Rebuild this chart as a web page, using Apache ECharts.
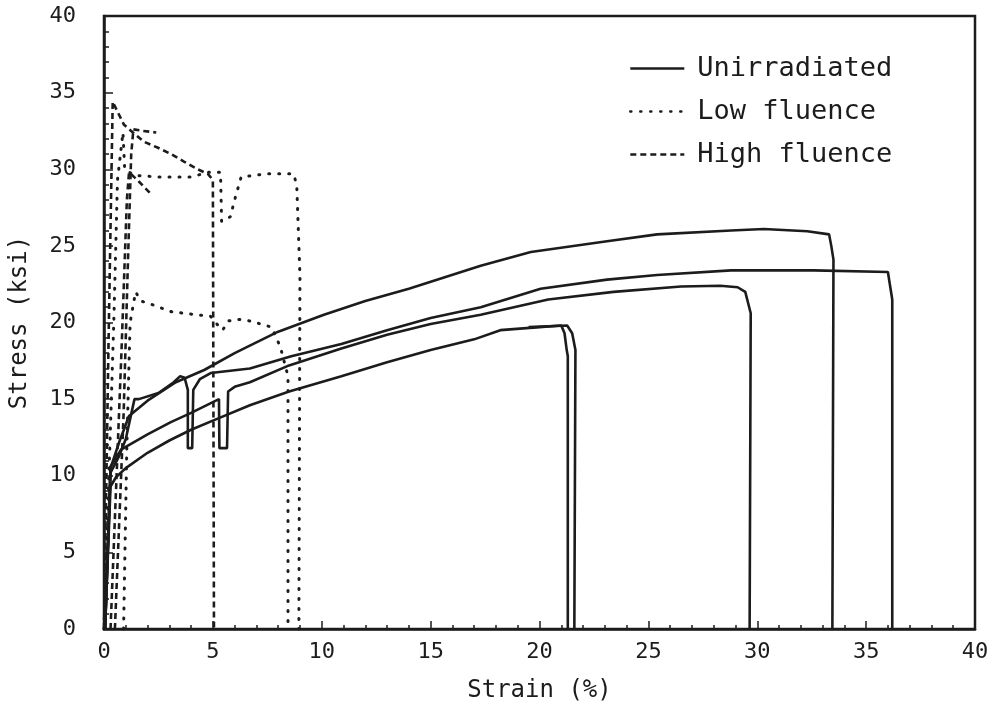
<!DOCTYPE html>
<html>
<head>
<meta charset="utf-8">
<script src="https://cdn.jsdelivr.net/npm/echarts@6/dist/echarts.min.js"></script>
<style>
html,body{margin:0;padding:0;background:#fff;}
#chart{width:998px;height:714px;}
</style>
</head>
<body>
<div id="chart"></div>
<script>
// ---- tick labels ----
const xTicks = [0, 5, 10, 15, 20, 25, 30, 35, 40];
const yTicks = [0, 5, 10, 15, 20, 25, 30, 35, 40];
const legendNames = ['Unirradiated', 'Low fluence', 'High fluence'];

// ---- Unirradiated (solid) curves: [strain %, stress ksi] ----
const uniLow = [[0.05,0],[0.3,9.3],[0.55,9.9],[1,10.5],[2,11.5],[3,12.3],[4,13.0],[5,13.6],[6.7,14.6],[8.5,15.5],[10.9,16.5],[13,17.4],[15,18.2],[17,18.9],[18.2,19.5],[20,19.7],[21.0,19.8],[21.15,19.3],[21.25,18.2],[21.3,17.8],[21.3,0]];
const uniLowTwin = [[19.5,19.7],[21.27,19.8],[21.5,19.3],[21.65,18.2],[21.6,0]];
const uniMidA = [[0.05,0],[0.3,10.6],[0.78,11.7],[2,12.7],[3.07,13.5],[4,14.1],[5.28,15.0],[5.3,11.8],[5.65,11.8],[5.7,15.5],[6,15.8],[6.7,16.1],[8.5,17.2],[10.9,18.3],[13,19.2],[15,19.9],[17.3,20.5],[20.4,21.5],[23.4,22.0],[26.5,22.35],[28.3,22.4],[29.1,22.3],[29.45,22.0],[29.7,20.6],[29.65,0]];
const uniMidB = [[0.05,0],[0.3,10.2],[0.7,11.3],[1.0,12.4],[1.4,15.0],[1.6,15.0],[2.5,15.4],[3.2,16.1],[3.5,16.5],[3.7,16.4],[3.85,15.6],[3.85,11.8],[4.05,11.8],[4.1,15.6],[4.4,16.3],[4.9,16.7],[6.7,17.0],[8.6,17.8],[10.9,18.6],[13,19.5],[15,20.3],[17.3,21.0],[20.05,22.2],[23.1,22.8],[25.4,23.1],[28.8,23.4],[32.6,23.4],[36.0,23.3],[36.2,21.5],[36.2,0]];
const uniTop = [[0.05,0],[0.3,10.5],[0.7,12.2],[1.15,13.9],[2,14.9],[3.3,16.1],[4.6,16.9],[6,18.0],[8,19.4],[10.1,20.5],[12,21.4],[14,22.2],[17.3,23.7],[19.6,24.6],[23.1,25.3],[25.4,25.75],[28.8,26.0],[30.3,26.1],[32.3,25.95],[33.3,25.75],[33.4,25.0],[33.5,24.1],[33.45,0]];

// ---- Low fluence (dotted) curves ----
const lowA = [[0,0],[0.45,20],[0.62,29.3],[0.87,32.4],[0.95,30.0],[1.4,29.6],[2.5,29.5],[4.0,29.5],[4.8,29.8],[5.35,29.8],[5.4,26.6],[5.8,26.9],[6.0,28.0],[6.3,29.5],[7.5,29.7],[8.7,29.7],[8.85,29.0],[9.0,23.0],[8.95,0]];
const lowB = [[0.9,0],[1.05,12],[1.2,20],[1.45,22.0],[1.7,21.4],[2.15,21.2],[3.1,20.7],[4.9,20.4],[5.3,19.7],[5.45,19.5],[5.7,20.1],[6.2,20.2],[6.7,20.1],[7.2,19.9],[7.7,19.7],[8.1,18.4],[8.45,16.5],[8.45,0]];

// ---- High fluence (dashed) curves ----
const highA = [[0,0],[0.2,18],[0.4,34.4],[0.64,33.7],[0.92,32.9],[1.33,32.4],[1.83,31.8],[2.48,31.4],[3.07,31.0],[3.67,30.5],[4.3,30.0],[4.77,29.7],[5.0,29.3],[5.05,0]];
const highB = [[0.5,0],[0.9,14],[1.1,24],[1.25,31],[1.35,32.6],[1.8,32.5],[2.4,32.4]];
const highC = [[0.3,0],[0.8,18],[1.05,28],[1.15,29.8],[1.6,29.2],[2.15,28.4]];

const ink = '#1c1c1c';
const font = 'DejaVu Sans Mono';

function solid(d){ return {name: legendNames[0], type:'line', data:d, showSymbol:false, symbol:'none', animation:false,
  lineStyle:{color:ink, width:2.6, type:'solid'}, itemStyle:{color:ink}}; }
function dotted(d){ return {name: legendNames[1], type:'line', data:d, showSymbol:false, symbol:'none', animation:false,
  lineStyle:{color:ink, width:3, type:[1,9], cap:'round'}, itemStyle:{color:ink}}; }
function dashed(d){ return {name: legendNames[2], type:'line', data:d, showSymbol:false, symbol:'none', animation:false,
  lineStyle:{color:ink, width:2.6, type:[6,4]}, itemStyle:{color:ink}}; }

const chart = echarts.init(document.getElementById('chart'), null, {renderer:'canvas'});
chart.setOption({
  backgroundColor:'#fff',
  animation:false,
  grid:{left:103, right:23, top:16, bottom:85, show:true, borderColor:ink, borderWidth:2.5, backgroundColor:'transparent'},
  legend:{
    data: legendNames, orient:'vertical', left:624, top:50, selectedMode:false,
    itemWidth:54, itemHeight:14, itemGap:16,
    itemStyle:{opacity:0},
    lineStyle:{width:2.6},
    textStyle:{fontFamily:font, fontSize:27, color:ink, padding:[0,0,0,8]}
  },
  xAxis:{
    type:'value', min:xTicks[0], max:xTicks[xTicks.length-1], interval:5,
    name:'Strain (%)', nameLocation:'middle', nameGap:50,
    nameTextStyle:{fontFamily:font, fontSize:24, color:ink},
    axisLine:{show:true, onZero:false, lineStyle:{color:ink, width:2.5}},
    axisTick:{show:true, inside:true, length:8, lineStyle:{color:ink, width:1.5}},
    minorTick:{show:true, splitNumber:5, length:4, lineStyle:{color:ink, width:1.5}},
    axisLabel:{fontFamily:font, fontSize:22, color:ink, margin:12},
    splitLine:{show:false}
  },
  yAxis:{
    type:'value', min:yTicks[0], max:yTicks[yTicks.length-1], interval:5,
    name:'Stress (ksi)', nameLocation:'middle', nameGap:72,
    nameTextStyle:{fontFamily:font, fontSize:24, color:ink},
    axisLine:{show:true, onZero:false, lineStyle:{color:ink, width:2.5}},
    axisTick:{show:true, inside:true, length:9, lineStyle:{color:ink, width:1.5}},
    minorTick:{show:true, splitNumber:5, length:5, lineStyle:{color:ink, width:1.5}},
    axisLabel:{fontFamily:font, fontSize:22, color:ink, margin:28},
    splitLine:{show:false}
  },
  series:[
    solid(uniLow), solid(uniLowTwin), solid(uniMidA), solid(uniMidB), solid(uniTop),
    dotted(lowA), dotted(lowB),
    dashed(highA), dashed(highB), dashed(highC)
  ]
});
</script>
</body>
</html>
